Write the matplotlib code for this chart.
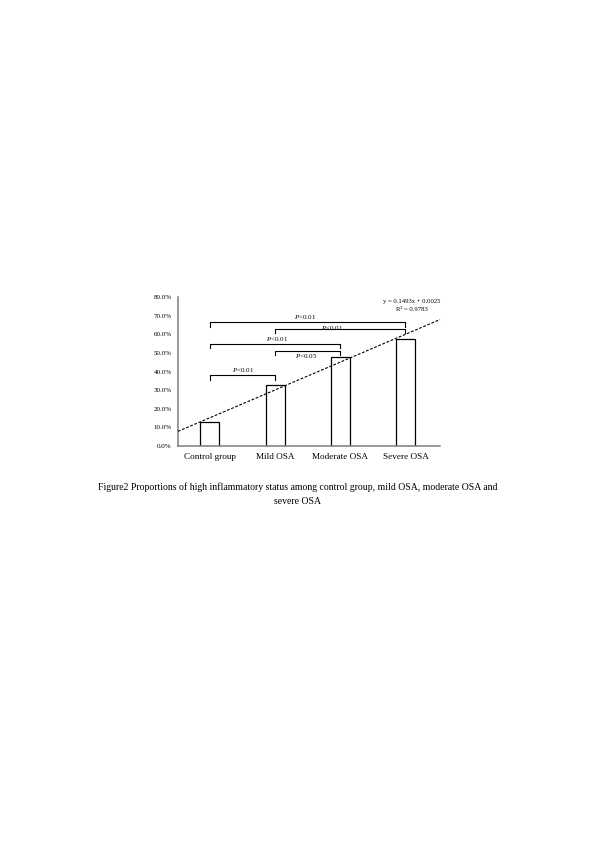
import matplotlib
matplotlib.use("Agg")
import matplotlib.pyplot as plt
import numpy as np
from matplotlib.ticker import FuncFormatter, MultipleLocator

plt.rcParams['font.family'] = ['Liberation Serif', 'DejaVu Serif']
plt.rcParams['mathtext.fontset'] = 'custom'
plt.rcParams['mathtext.rm'] = 'Liberation Serif'
plt.rcParams['mathtext.it'] = 'Liberation Serif:italic'

# ---- data ----
categories = ["Control group", "Mild OSA", "Moderate OSA", "Severe OSA"]
proportions = [0.128, 0.325, 0.480, 0.575]
trend_slope = 0.1493
trend_intercept = 0.0025
trend_r2 = 0.9783
# significance brackets: (from index, to index, bracket height, label)
bracket_from = [0, 1, 0, 1, 0]
bracket_to = [3, 3, 2, 2, 1]
bracket_height = [0.666, 0.630, 0.549, 0.512, 0.380]
bracket_label = ["<0.01", "<0.01", "<0.01", "<0.05", "<0.01"]
caption_lines = ["Figure2 Proportions of high inflammatory status among control group, mild OSA, moderate OSA and",
                 "severe OSA"]

W, H = 595, 842
fig = plt.figure(figsize=(W / 100, H / 100), dpi=100)
fig.patch.set_facecolor("white")

ax = fig.add_axes([178 / W, 1 - 446 / H, (440 - 178) / W, (446 - 297) / H])
x = np.arange(len(categories))
ax.bar(x, proportions, width=0.29, facecolor="white", edgecolor="black", linewidth=0.9, zorder=2)

ax.set_xlim(-0.49, 3.53)
ax.set_ylim(0, 0.8)
ax.yaxis.set_major_locator(MultipleLocator(0.1))
ax.yaxis.set_major_formatter(FuncFormatter(lambda v, p: f"{v*100:.1f}%"))
ax.set_xticks(x)
ax.set_xticklabels(categories, fontsize=6.6)
ax.tick_params(axis="both", length=0)
ax.tick_params(axis="y", labelsize=5, pad=4.5)
ax.tick_params(axis="x", pad=5)
for s in ["top", "right"]:
    ax.spines[s].set_visible(False)
for s in ["left", "bottom"]:
    ax.spines[s].set_color("#7f7f7f")
    ax.spines[s].set_linewidth(1.1)

# trendline (Excel x = category index + 1)
xl = np.array(ax.get_xlim())
ax.plot(xl, trend_slope * (xl + 1) + trend_intercept, linestyle=(0, (2.5, 1.5)),
        color="black", linewidth=0.8, zorder=3, clip_on=False)
ax.text(3.10, 0.774, f"y = {trend_slope}x + {trend_intercept}", fontsize=4.8, ha="center", va="center")
ax.text(3.10, 0.735, f"R² = {trend_r2}", fontsize=4.8, ha="center", va="center")

# brackets
drop = 0.025
label_x = [1.46, 1.88, 1.03, 1.48, 0.51]
label_mode = ["above", "on", "above", "below", "above"]
for a, b, h, lab, lx, mode in zip(bracket_from, bracket_to, bracket_height, bracket_label, label_x, label_mode):
    ax.plot([a, a, b, b], [h - drop, h, h, h - drop], color="black", linewidth=0.8, zorder=3)
    txt = r"$P$" + lab
    if mode == "above":
        ax.text(lx, h + 0.004, txt, fontsize=5, ha="center", va="bottom")
    elif mode == "on":
        ax.text(lx, h + 0.006, txt, fontsize=5, ha="center", va="center")
    else:
        ax.text(lx, h - 0.005, txt, fontsize=5, ha="center", va="top")

# caption
fig.text(0.5, 1 - 487 / H, caption_lines[0], fontsize=7.05, ha="center", va="center")
fig.text(0.5, 1 - 501 / H, caption_lines[1], fontsize=7.05, ha="center", va="center")

fig.savefig("out.png", dpi=100, facecolor="white")
